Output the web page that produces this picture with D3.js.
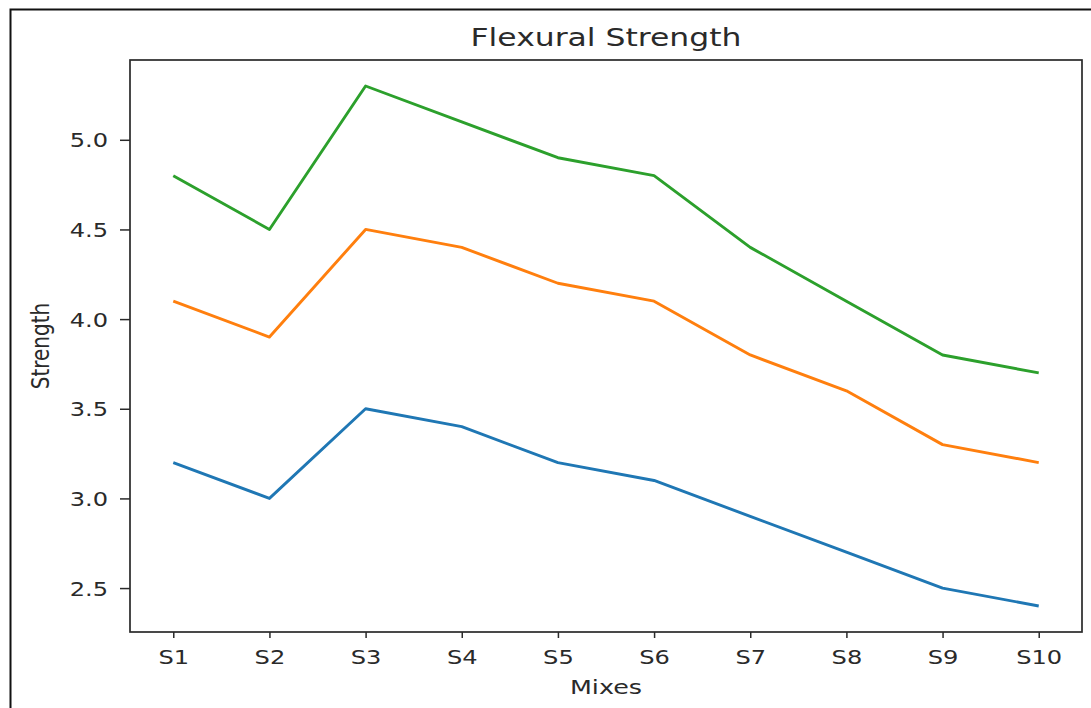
<!DOCTYPE html>
<html>
<head>
<meta charset="utf-8">
<script src="https://cdn.jsdelivr.net/npm/d3@7"></script>
<style>
  html, body { margin: 0; padding: 0; background: #fff; }
  svg { display: block; }
  text { font-family: "DejaVu Sans", sans-serif; fill: #2a2a2a; }
</style>
</head>
<body>
<div id="chart"></div>
<script>
// data
const mixes = ["S1", "S2", "S3", "S4", "S5", "S6", "S7", "S8", "S9", "S10"];
const seriesBlue = [3.2, 3.0, 3.5, 3.4, 3.2, 3.1, 2.9, 2.7, 2.5, 2.4];
const seriesOrange = [4.1, 3.9, 4.5, 4.4, 4.2, 4.1, 3.8, 3.6, 3.3, 3.2];
const seriesGreen = [4.8, 4.5, 5.3, 5.1, 4.9, 4.8, 4.4, 4.1, 3.8, 3.7];
const yTicks = [2.5, 3.0, 3.5, 4.0, 4.5, 5.0];
const colors = ["#1f77b4", "#ff7f0e", "#2ca02c"];

const width = 1091, height = 708;
const plot = {left: 130, right: 1082, top: 60, bottom: 632};
const sx = 1.27; // the picture is stretched sideways

const series = [seriesBlue, seriesOrange, seriesGreen];
const all = series.flat();
const yMin = d3.min(all), yMax = d3.max(all);
const yPad = (yMax - yMin) * 0.05;
const xPad = (mixes.length - 1) * 0.05;

const x = d3.scaleLinear()
  .domain([-xPad, mixes.length - 1 + xPad])
  .range([plot.left, plot.right]);
const y = d3.scaleLinear()
  .domain([yMin - yPad, yMax + yPad])
  .range([plot.bottom, plot.top]);

const svg = d3.select("#chart").append("svg")
  .attr("width", width).attr("height", height);

// outer frame (only top and left edges are inside the picture)
svg.append("rect")
  .attr("x", 10.5).attr("y", 9.5)
  .attr("width", width + 20).attr("height", height + 20)
  .attr("fill", "none").attr("stroke", "#111").attr("stroke-width", 2);

const line = d3.line()
  .x((d, i) => x(i))
  .y(d => y(d));

svg.append("g").selectAll("path")
  .data(series).enter()
  .append("path")
  .attr("d", d => line(d))
  .attr("fill", "none")
  .attr("stroke", (d, i) => colors[i])
  .attr("stroke-width", 2.9)
  .attr("stroke-linejoin", "round");

// axes
const axisX = svg.append("g")
  .attr("transform", "translate(0," + plot.bottom + ")")
  .call(d3.axisBottom(x).tickValues(d3.range(mixes.length)).tickFormat(i => mixes[i]).tickSize(6));
axisX.select(".domain").remove();
axisX.selectAll(".tick line").attr("stroke", "#2a2a2a").attr("stroke-width", 1.5);
axisX.selectAll(".tick text")
  .attr("y", null).attr("dy", null)
  .attr("transform", "translate(0,32) scale(" + sx + ",1)")
  .attr("font-size", 19)
  .style("font-family", "DejaVu Sans");

const axisY = svg.append("g")
  .attr("transform", "translate(" + plot.left + ",0)")
  .call(d3.axisLeft(y).tickValues(yTicks).tickFormat(d3.format(".1f")).tickSize(10));
axisY.select(".domain").remove();
axisY.selectAll(".tick line").attr("stroke", "#2a2a2a").attr("stroke-width", 1.5);
axisY.selectAll(".tick text")
  .attr("x", null).attr("dy", null)
  .attr("transform", "translate(-22,7) scale(" + sx + ",1)")
  .attr("font-size", 19)
  .style("font-family", "DejaVu Sans");

// plot frame
svg.append("rect")
  .attr("x", plot.left).attr("y", plot.top)
  .attr("width", plot.right - plot.left).attr("height", plot.bottom - plot.top)
  .attr("fill", "none").attr("stroke", "#2a2a2a").attr("stroke-width", 1.7);

// titles
const mid = (plot.left + plot.right) / 2;
svg.append("text")
  .attr("text-anchor", "middle")
  .attr("transform", "translate(" + mid + ",46) scale(1.31,1)")
  .attr("font-size", 24)
  .text("Flexural Strength");

svg.append("text")
  .attr("text-anchor", "middle")
  .attr("transform", "translate(" + mid + ",694) scale(" + sx + ",1)")
  .attr("font-size", 20)
  .text("Mixes");

svg.append("text")
  .attr("text-anchor", "middle")
  .attr("transform", "translate(49," + ((plot.top + plot.bottom) / 2) + ") scale(" + sx + ",1) rotate(-90)")
  .attr("font-size", 20)
  .text("Strength");
</script>
</body>
</html>
